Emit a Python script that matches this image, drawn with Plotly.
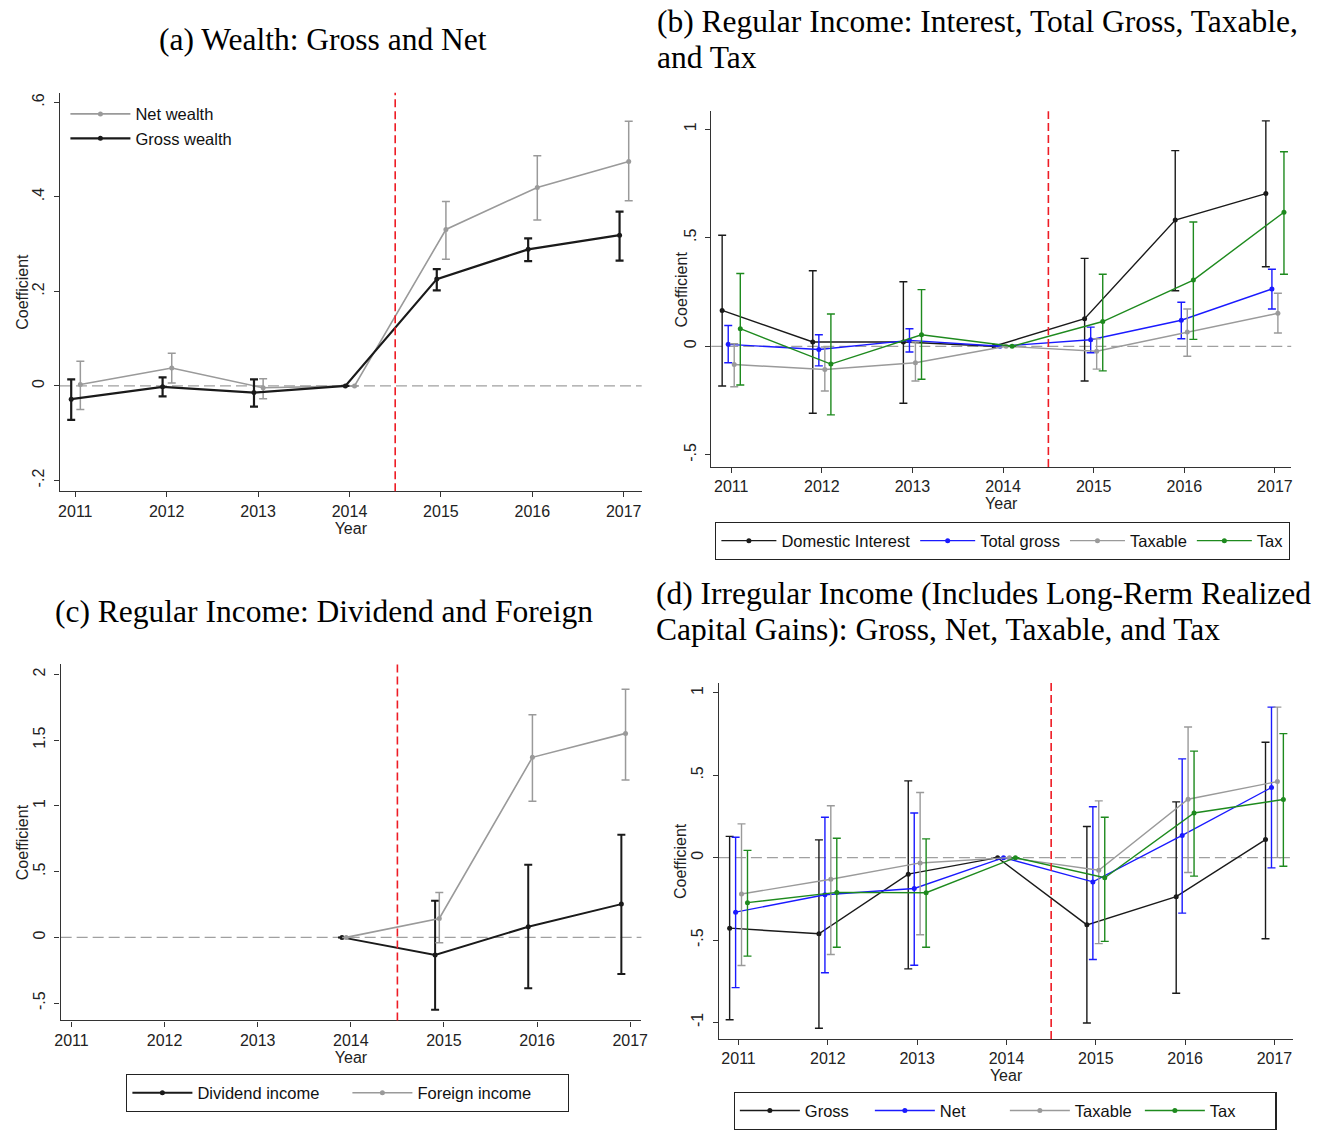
import plotly.graph_objects as go

# ---------------- DATA ----------------
years = [2011, 2012, 2013, 2014, 2015, 2016, 2017]
years_c = [2014, 2015, 2016, 2017]

# Panel (a) Wealth
net_wealth = [0.003, 0.038, -0.004, 0.0, 0.331, 0.420, 0.475]
net_wealth_lo = [-0.050, 0.006, -0.027, None, 0.268, 0.351, 0.392]
net_wealth_hi = [0.052, 0.069, 0.015, None, 0.390, 0.487, 0.560]
gross_wealth = [-0.028, -0.002, -0.014, 0.0, 0.226, 0.289, 0.319]
gross_wealth_lo = [-0.072, -0.022, -0.044, None, 0.202, 0.264, 0.265]
gross_wealth_hi = [0.014, 0.018, 0.014, None, 0.247, 0.312, 0.369]

# Panel (b) Regular income
dom_int = [0.165, 0.020, 0.020, 0.0, 0.127, 0.581, 0.703]
dom_int_lo = [-0.183, -0.308, -0.262, None, -0.160, 0.256, 0.366]
dom_int_hi = [0.511, 0.348, 0.297, None, 0.405, 0.901, 1.038]
tot_gross = [0.009, -0.015, 0.027, 0.0, 0.030, 0.120, 0.264]
tot_gross_lo = [-0.076, -0.090, -0.026, None, -0.030, 0.035, 0.172]
tot_gross_hi = [0.096, 0.053, 0.081, None, 0.088, 0.203, 0.355]
taxable_b = [-0.084, -0.107, -0.076, 0.0, -0.023, 0.066, 0.152]
taxable_b_lo = [-0.186, -0.206, -0.160, None, -0.105, -0.046, 0.061]
taxable_b_hi = [0.012, -0.003, 0.020, None, 0.035, 0.172, 0.244]
tax_b = [0.081, -0.082, 0.053, 0.0, 0.114, 0.305, 0.617]
tax_b_lo = [-0.178, -0.316, -0.152, None, -0.113, 0.032, 0.332]
tax_b_hi = [0.335, 0.149, 0.261, None, 0.332, 0.572, 0.896]

# Panel (c) Dividend and foreign
dividend = [0.0, -0.134, 0.081, 0.253]
dividend_lo = [None, -0.551, -0.386, -0.278]
dividend_hi = [None, 0.278, 0.553, 0.780]
foreign = [0.0, 0.144, 1.369, 1.551]
foreign_lo = [None, -0.040, 1.035, 1.197]
foreign_hi = [None, 0.341, 1.692, 1.886]

# Panel (d) Irregular income
gross_d = [-0.428, -0.462, -0.100, 0.0, -0.408, -0.237, 0.110]
gross_d_lo = [-0.984, -1.036, -0.675, None, -1.004, -0.823, -0.492]
gross_d_hi = [0.129, 0.108, 0.466, None, 0.189, 0.339, 0.701]
net_d = [-0.331, -0.225, -0.187, 0.0, -0.147, 0.135, 0.426]
net_d_lo = [-0.789, -0.699, -0.653, None, -0.618, -0.337, -0.062]
net_d_hi = [0.124, 0.245, 0.271, None, 0.309, 0.600, 0.914]
taxable_d = [-0.221, -0.131, -0.032, 0.0, -0.076, 0.355, 0.462]
taxable_d_lo = [-0.655, -0.588, -0.468, None, -0.522, -0.090, 0.000]
taxable_d_hi = [0.205, 0.315, 0.396, None, 0.345, 0.793, 0.914]
tax_d = [-0.273, -0.211, -0.213, 0.0, -0.122, 0.271, 0.353]
tax_d_lo = [-0.598, -0.544, -0.544, None, -0.508, -0.112, -0.052]
tax_d_hi = [0.044, 0.118, 0.114, None, 0.245, 0.647, 0.753]

ticks_a = [-0.2, 0, 0.2, 0.4, 0.6]
ticktext_a = ["-.2", "0", ".2", ".4", ".6"]
ticks_b = [-0.5, 0, 0.5, 1]
ticktext_b = ["-.5", "0", ".5", "1"]
ticks_c = [-0.5, 0, 0.5, 1, 1.5, 2]
ticktext_c = ["-.5", "0", ".5", "1", "1.5", "2"]
ticks_d = [-1, -0.5, 0, 0.5, 1]
ticktext_d = ["-1", "-.5", "0", ".5", "1"]

# ---------------- STYLE ----------------
W, H = 1320, 1130
BLACK = "#1a1a1a"
GRAY = "#9a9a9a"
BLUE = "#1a1aff"
GREEN = "#1e8a1e"
RED = "#ee1c25"
SANS = "Liberation Sans, Arial, sans-serif"
SERIF = "Liberation Serif, Times New Roman, serif"


def err(vals, lo, hi):
    plus = [None if h is None else h - v for v, h in zip(vals, hi)]
    minus = [None if l is None else v - l for v, l in zip(vals, lo)]
    return plus, minus


fig = go.Figure()


def add_series(xs, offset, vals, lo, hi, name, color, axis, legend, lw=1.4, ew=1.4):
    plus, minus = err(vals, lo, hi)
    fig.add_trace(go.Scatter(
        x=[x + offset for x in xs], y=vals, name=name, mode="lines+markers",
        line=dict(color=color, width=lw), marker=dict(color=color, size=5),
        error_y=dict(type="data", array=plus, arrayminus=minus, color=color,
                     thickness=ew, width=4, symmetric=False),
        xaxis="x" + axis, yaxis="y" + axis, legend=legend,
    ))


# Panel a
add_series(years, 0.055, net_wealth, net_wealth_lo, net_wealth_hi, "Net wealth", GRAY, "", "legend", lw=1.6, ew=1.5)
add_series(years, -0.045, gross_wealth, gross_wealth_lo, gross_wealth_hi, "Gross wealth", BLACK, "", "legend", lw=2.2, ew=2.2)
# Panel b
add_series(years, -0.1, dom_int, dom_int_lo, dom_int_hi, "Domestic Interest", BLACK, "2", "legend2")
add_series(years, -0.033, tot_gross, tot_gross_lo, tot_gross_hi, "Total gross", BLUE, "2", "legend2")
add_series(years, 0.033, taxable_b, taxable_b_lo, taxable_b_hi, "Taxable", GRAY, "2", "legend2")
add_series(years, 0.1, tax_b, tax_b_lo, tax_b_hi, "Tax", GREEN, "2", "legend2")
# Panel c
add_series(years_c, -0.095, dividend, dividend_lo, dividend_hi, "Dividend income", BLACK, "3", "legend3", lw=2.0, ew=2.0)
add_series(years_c, -0.05, foreign, foreign_lo, foreign_hi, "Foreign income", GRAY, "3", "legend3", lw=1.6, ew=1.5)
# Panel d
add_series(years, -0.1, gross_d, gross_d_lo, gross_d_hi, "Gross", BLACK, "4", "legend4")
add_series(years, -0.033, net_d, net_d_lo, net_d_hi, "Net", BLUE, "4", "legend4")
add_series(years, 0.033, taxable_d, taxable_d_lo, taxable_d_hi, "Taxable", GRAY, "4", "legend4")
add_series(years, 0.1, tax_d, tax_d_lo, tax_d_hi, "Tax", GREEN, "4", "legend4")

# ---------------- LAYOUT ----------------
# pixel boxes: (left, right, top, bottom), x-range, y-range
panels = {
    "": ((54.5, 642, 93, 493), (2010.832, 2017.197), (-0.2229, 0.6205), ticks_a, ticktext_a),
    "2": ((712.3, 1298, 111.7, 468.7), (2010.78, 2017.18), (-0.556, 1.082), ticks_b, ticktext_b),
    "3": ((55.2, 641.7, 666.7, 1024), (2010.884, 2017.12), (-0.631, 2.076), ticks_c, ticktext_c),
    "4": ((720, 1300, 685, 1042.7), (2010.78, 2017.21), (-1.101, 1.063), ticks_d, ticktext_d),
}
ytitle_x = {"": 17, "2": 682, "3": 17, "4": 682}

axis_font = dict(family=SANS, size=16, color="#222")
layout = dict(
    width=W, height=H, margin=dict(l=0, r=0, t=0, b=0),
    paper_bgcolor="white", plot_bgcolor="white", showlegend=True,
)
shapes = []
annotations = []
for key, (box, xr, yr, tv, tt) in panels.items():
    l, r, t, b = box
    xa = "xaxis" + key
    ya = "yaxis" + key
    layout[xa] = dict(
        domain=[l / W, r / W], range=list(xr), anchor="y" + key,
        tickvals=years, ticks="outside", ticklen=5, tickwidth=1.2, tickcolor="#333",
        showline=True, linecolor="#333", linewidth=1.4, showgrid=False, zeroline=False,
        tickfont=axis_font, title=dict(text="Year", font=axis_font, standoff=1),
    )
    layout[ya] = dict(
        domain=[1 - b / H, 1 - t / H], range=list(yr), anchor="x" + key,
        tickvals=tv, ticktext=tt, tickangle=-90, ticks="outside", ticklen=5,
        tickwidth=1.2, tickcolor="#333", ticklabelstandoff=3,
        showline=True, linecolor="#333", linewidth=1.4, showgrid=False, zeroline=False,
        tickfont=axis_font,
    )
    annotations.append(dict(text="Coefficient", x=ytitle_x[key] / W, y=1 - (t + b) / 2 / H,
                            xref="paper", yref="paper", textangle=-90, showarrow=False,
                            xanchor="center", yanchor="middle", font=axis_font))
    xref = "x" + key
    yref = "y" + key
    shapes.append(dict(type="line", xref=xref + " domain", yref=yref, x0=0, x1=1, y0=0, y1=0,
                       line=dict(color="#a0a0a0", width=1.2, dash="11px,5px"), layer="below"))
    shapes.append(dict(type="line", xref=xref, yref=yref + " domain", x0=2014.5, x1=2014.5, y0=0, y1=1,
                       line=dict(color=RED, width=1.6, dash="8px,4px"), layer="above"))
layout["shapes"] = shapes

leg_font = dict(family=SANS, size=16.5, color="#111")
layout["legend"] = dict(x=60 / W, y=1 - 97 / H, xanchor="left", yanchor="top",
                        bgcolor="rgba(0,0,0,0)", borderwidth=0, font=leg_font,
                        itemwidth=60, tracegroupgap=0)
layout["legend2"] = dict(x=1006.5 / W, y=1 - 524 / H, xanchor="center", yanchor="top",
                         orientation="h", bgcolor="white", bordercolor="#222", borderwidth=1.3,
                         font=leg_font, itemwidth=55)
layout["legend3"] = dict(x=345 / W, y=1 - 1078 / H, xanchor="center", yanchor="top",
                         orientation="h", bgcolor="white", bordercolor="#222", borderwidth=1.3,
                         font=leg_font, itemwidth=60, entrywidth=145)
layout["legend4"] = dict(x=1009 / W, y=1 - 1096 / H, xanchor="center", yanchor="top",
                         orientation="h", bgcolor="white", bordercolor="#222", borderwidth=1.3,
                         font=leg_font, itemwidth=60, entrywidth=60)

title_font = dict(family=SERIF, size=31.5, color="black")
titles = [
    dict(text="(a) Wealth: Gross and Net", x=320 / W, y=1 - 40 / H, xanchor="center", yanchor="middle"),
    dict(text="(b) Regular Income: Interest, Total Gross, Taxable,", x=655 / W, y=1 - 22 / H, xanchor="left", yanchor="middle"),
    dict(text="and Tax", x=655 / W, y=1 - 58 / H, xanchor="left", yanchor="middle"),
    dict(text="(c) Regular Income: Dividend and Foreign", x=321 / W, y=1 - 614 / H, xanchor="center", yanchor="middle"),
    dict(text="(d) Irregular Income (Includes Long-Rerm Realized", x=654 / W, y=1 - 596 / H, xanchor="left", yanchor="middle"),
    dict(text="Capital Gains): Gross, Net, Taxable, and Tax", x=654 / W, y=1 - 632 / H, xanchor="left", yanchor="middle"),
]
for a in titles:
    a.update(xref="paper", yref="paper", showarrow=False, font=title_font)
layout["annotations"] = annotations + titles

fig.update_layout(**layout)

fig.write_html("out.html", config={"displayModeBar": False},
               post_script="document.body.style.margin='0';document.body.style.overflow='hidden';")
